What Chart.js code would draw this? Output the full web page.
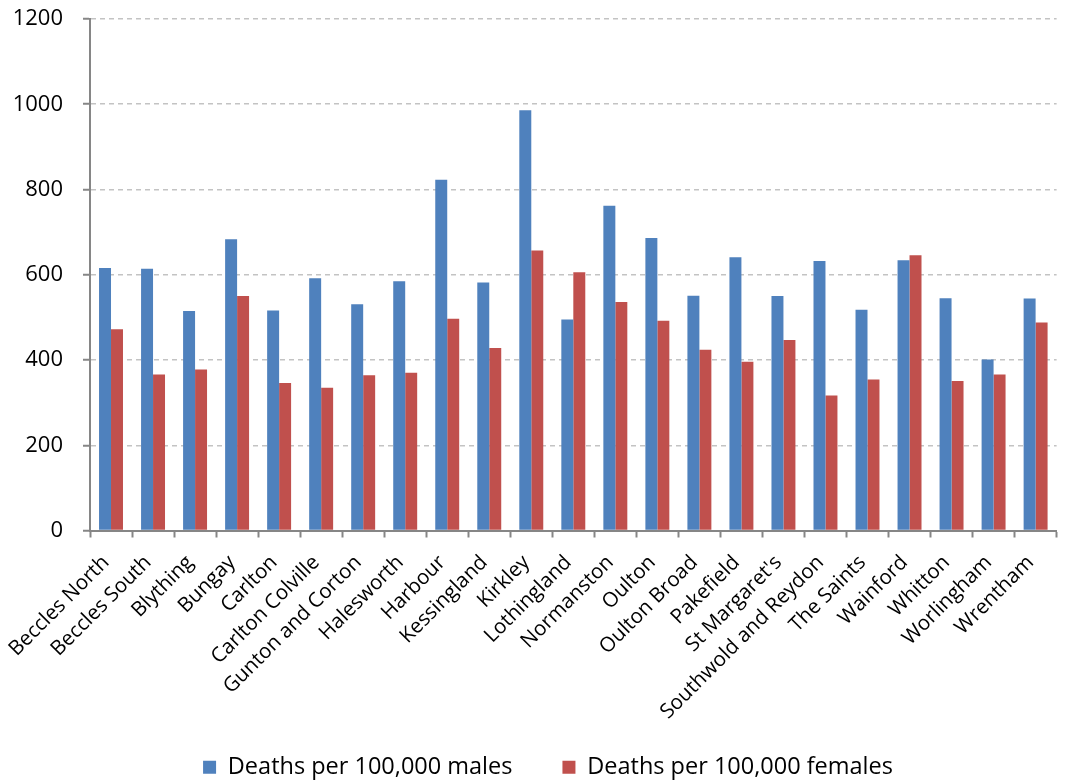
<!DOCTYPE html>
<html>
<head>
<meta charset="utf-8">
<script src="https://cdn.jsdelivr.net/npm/chart.js@4"></script>
<style>
  html, body { margin: 0; padding: 0; background: #ffffff; }
  #wrap { width: 1066px; height: 783px; }
</style>
</head>
<body>
<div id="wrap"><canvas id="c" width="1066" height="783"></canvas></div>
<script>
const categories = ["Beccles North", "Beccles South", "Blything", "Bungay", "Carlton", "Carlton Colville", "Gunton and Corton", "Halesworth", "Harbour", "Kessingland", "Kirkley", "Lothingland", "Normanston", "Oulton", "Oulton Broad", "Pakefield", "St Margaret's", "Southwold and Reydon", "The Saints", "Wainford", "Whitton", "Worlingham", "Wrentham"];
const malesDeaths = [616, 614, 515, 683, 516, 592, 531, 585, 823, 582, 986, 495, 762, 686, 551, 641, 550, 632, 518, 634, 545, 401, 544];
const femalesDeaths = [472, 366, 378, 550, 346, 335, 364, 370, 497, 428, 657, 606, 536, 492, 424, 396, 447, 317, 354, 646, 351, 366, 488];
const seriesNames = ["Deaths per 100,000 males", "Deaths per 100,000 females"];
const yTicks = [0, 200, 400, 600, 800, 1000, 1200];

const FONT = "'Open Sans', 'Liberation Sans', sans-serif";

new Chart(document.getElementById('c'), {
  type: 'bar',
  data: {
    labels: categories,
    datasets: [
      { label: seriesNames[0], data: malesDeaths, backgroundColor: '#4F81BD', borderWidth: 0 },
      { label: seriesNames[1], data: femalesDeaths, backgroundColor: '#C0504D', borderWidth: 0 }
    ]
  },
  options: {
    responsive: false,
    animation: false,
    devicePixelRatio: 1,
    datasets: { bar: { categoryPercentage: 0.57, barPercentage: 1.0 } },
    layout: { padding: { top: 19, right: 0, bottom: -6, left: 30 } },
    plugins: {
      tooltip: { enabled: false },
      legend: {
        position: 'bottom',
        labels: {
          boxWidth: 13,
          boxHeight: 13,
          padding: 50,
          color: '#000000',
          font: { family: FONT, size: 23.5 }
        }
      }
    },
    scales: {
      x: {
        offset: true,
        afterFit: (s) => { s.height = 175; s._computeLabelArea = () => undefined; },
        grid: { drawOnChartArea: false, drawTicks: true, tickLength: 7, tickColor: '#868686', tickWidth: 2, offset: true },
        border: { color: '#868686', width: 2 },
        ticks: {
          minRotation: 45, maxRotation: 45, autoSkip: false, padding: 13, labelOffset: -5,
          color: '#000000',
          font: { family: FONT, size: 20.5 }
        }
      },
      y: {
        min: 0, max: 1200,
        afterFit: (s) => { s.width = 60; s.paddingTop = 0; s._computeLabelArea = () => undefined; },
        afterBuildTicks: (s) => { s.ticks = yTicks.map(v => ({ value: v })); },
        grid: {
          color: '#c3c3c3', lineWidth: 1.5,
          drawTicks: true, tickLength: 7, tickColor: '#868686', tickWidth: 2, tickBorderDash: []
        },
        border: { color: '#868686', width: 2, dash: [5, 4] },
        ticks: {
          padding: 20,
          color: '#000000',
          font: { family: FONT, size: 22 },
          callback: (v) => String(v)
        }
      }
    }
  }
});
</script>
</body>
</html>
